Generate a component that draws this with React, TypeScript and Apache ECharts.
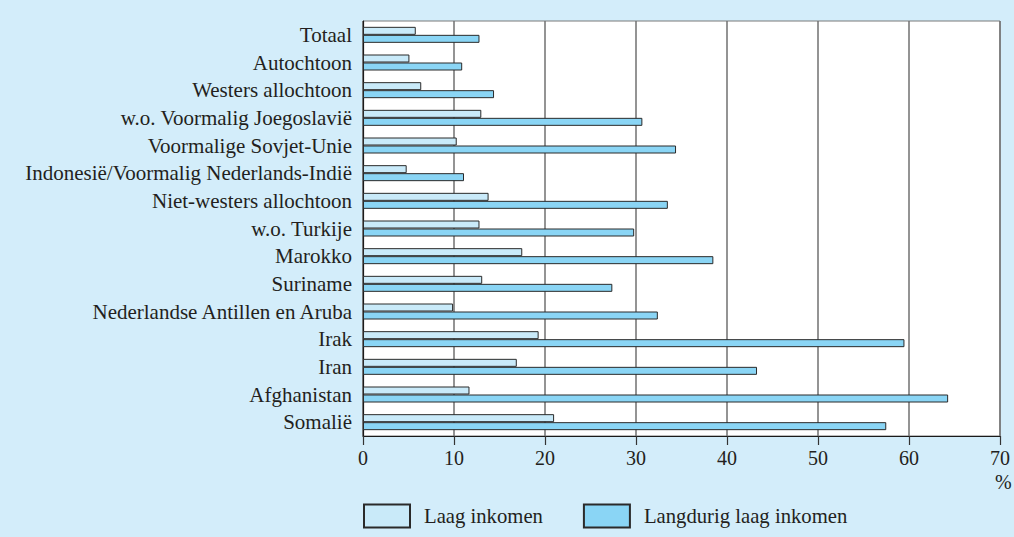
import React, { useEffect, useRef } from "react";
import * as echarts from "echarts";

const categories = [
  "Totaal",
  "Autochtoon",
  "Westers allochtoon",
  "w.o. Voormalig Joegoslavië",
  "Voormalige Sovjet-Unie",
  "Indonesië/Voormalig Nederlands-Indië",
  "Niet-westers allochtoon",
  "w.o. Turkije",
  "Marokko",
  "Suriname",
  "Nederlandse Antillen en Aruba",
  "Irak",
  "Iran",
  "Afghanistan",
  "Somalië",
];

const laagInkomen = [5.8, 5.1, 6.4, 13.0, 10.3, 4.8, 13.8, 12.8, 17.5, 13.1, 9.9, 19.3, 16.9, 11.7, 21.0];
const langdurigLaagInkomen = [12.8, 10.9, 14.4, 30.7, 34.4, 11.1, 33.5, 29.8, 38.5, 27.4, 32.4, 59.5, 43.3, 64.3, 57.5];

const seriesNames = ["Laag inkomen", "Langdurig laag inkomen"];
const xTicks = { min: 0, max: 70, interval: 10 };
const unitLabel = "%";

const FONT = "Liberation Serif";
const TEXT = "#231f20";

export default function App() {
  const ref = useRef<HTMLDivElement>(null);
  useEffect(() => {
    if (!ref.current) return;
    const chart = echarts.init(ref.current, null, { renderer: "svg" });
    chart.setOption({
      animation: false,
      backgroundColor: "#d3edfa",
      textStyle: { fontFamily: FONT, color: TEXT },
      grid: {
        left: 363,
        right: 14,
        top: 21,
        bottom: 101,
        show: true,
        backgroundColor: "#ffffff",
        borderColor: "#7a7a7a",
        borderWidth: 1,
      },
      xAxis: {
        type: "value",
        min: xTicks.min,
        max: xTicks.max,
        interval: xTicks.interval,
        axisLine: { show: true, lineStyle: { color: "#1a1a1a", width: 1.2 } },
        axisTick: { show: true, inside: false, length: 9, lineStyle: { color: "#333", width: 1.2 } },
        axisLabel: { fontFamily: FONT, fontSize: 20, color: TEXT, margin: 12 },
        splitLine: { show: true, lineStyle: { color: "#707070", width: 1.5 } },
      },
      yAxis: {
        type: "category",
        data: categories,
        inverse: true,
        axisLine: { show: true, lineStyle: { color: "#1a1a1a", width: 1.2 } },
        axisTick: { show: false },
        axisLabel: { fontFamily: FONT, fontSize: 21, color: TEXT, margin: 11 },
        splitLine: { show: false },
      },
      legend: {
        left: 363,
        top: 503.5,
        padding: 0,
        itemWidth: 46,
        itemHeight: 23,
        itemGap: 40,
        icon: "rect",
        textStyle: { fontFamily: FONT, fontSize: 20.7, color: TEXT, padding: [0, 0, 0, 9] },
        data: seriesNames,
      },
      series: [
        {
          name: seriesNames[0],
          type: "bar",
          data: laagInkomen,
          barWidth: 8,
          barGap: "0%",
          itemStyle: { color: "#c9eaf9", borderColor: "#2a2a2a", borderWidth: 1 },
        },
        {
          name: seriesNames[1],
          type: "bar",
          data: langdurigLaagInkomen,
          barWidth: 8,
          barGap: "0%",
          itemStyle: { color: "#8ad5f5", borderColor: "#2a2a2a", borderWidth: 1 },
        },
      ],
      graphic: [
        {
          type: "text",
          left: 995,
          top: 472,
          style: { text: unitLabel, fontFamily: FONT, fontSize: 20, fill: TEXT },
        },
      ],
    });
    return () => chart.dispose();
  }, []);
  return (
    <div
      ref={ref}
      style={{ position: "absolute", left: 0, top: 0, width: 1014, height: 537 }}
    />
  );
}
